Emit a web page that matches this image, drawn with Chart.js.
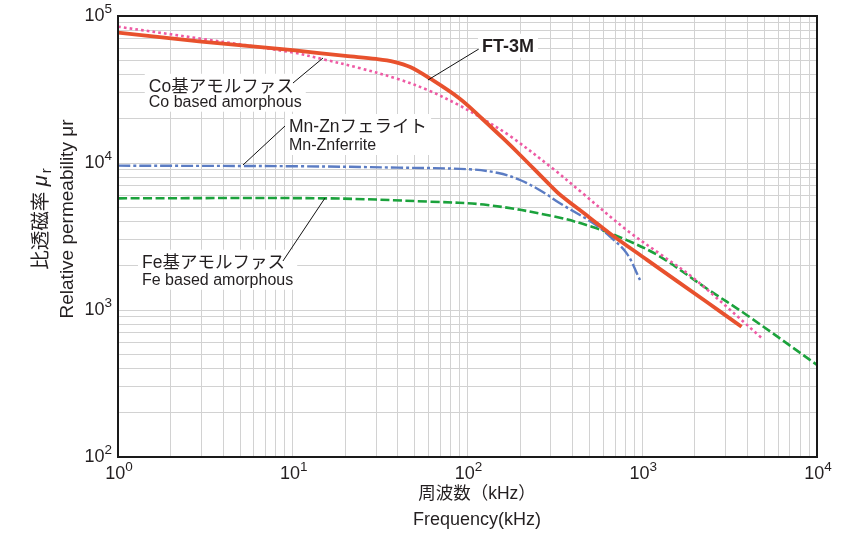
<!DOCTYPE html>
<html>
<head>
<meta charset="utf-8">
<script src="https://cdn.jsdelivr.net/npm/chart.js@4.4.1/dist/chart.umd.min.js"></script>
<style>
html, body { margin: 0; padding: 0; background: #fff; }
#wrap { width: 853px; height: 534px; }
</style>
</head>
<body>
<div id="wrap"><canvas id="chart" width="853" height="534"></canvas></div>
<script>
// 周波数 (kHz) / 比透磁率
const ft3mFreq = [1, 3, 10, 20, 30, 38, 47, 61, 90, 120, 160, 200, 300, 340, 500, 650, 1060, 2340, 3700];
const ft3mMu   = [77000, 67000, 58500, 53500, 51000, 48800, 45000, 37570, 27470, 20240, 14680, 11340, 6975, 6057, 4250, 3330, 2200, 1133, 770];

const coFreq = [1, 3, 10, 15, 24, 40, 60, 90, 120, 175, 310, 440, 815, 1264, 1960, 4900];
const coMu   = [84600, 70000, 56450, 50700, 44300, 37270, 31140, 24620, 20240, 15270, 9100, 6450, 3500, 2405, 1651, 635];

const mnznFreq = [1, 11, 40, 103, 150, 200, 270, 338, 525, 654, 815, 971];
const mnznMu   = [9590, 9500, 9300, 9060, 8550, 7660, 6350, 5320, 3890, 3160, 2430, 1600];

const feFreq = [1, 15, 60, 130, 310, 520, 815, 1264, 2337, 3960, 10000];
const feMu   = [5750, 5750, 5460, 5180, 4340, 3670, 2990, 2310, 1400, 925, 423];

const seriesNames = ["FT-3M", "Co基アモルファス", "Mn-Znフェライト", "Fe基アモルファス"];
const xTickExps = [0, 1, 2, 3, 4];
const yTickExps = [2, 3, 4, 5];

const LAT = '"Liberation Sans", Arial, "Noto Sans CJK JP", sans-serif';
const TXT = '#231f20';

function pts(fs, ms) {
  return fs.map((f, i) => ({ x: f, y: ms[i] }));
}

// 注記 (データ座標で指定)
const notes = [
  { main: "FT-3M", sub: null, bold: true, at: [121, 61800], from: [116, 59600], to: [59.4, 36700] },
  { main: "Co基アモルファス", sub: "Co based amorphous", at: [1.5, 33000], subAt: 25720, from: [10.03, 35000], to: [14.9, 51800] },
  { main: "Mn-Znフェライト", sub: "Mn-Znferrite", at: [9.52, 17580], subAt: 13050, from: [9.03, 17850], to: [5.19, 9690] },
  { main: "Fe基アモルファス", sub: "Fe based amorphous", at: [1.372, 2097], subAt: 1582, from: [8.79, 2154], to: [15.3, 5780] }
];

function logTicks(min, max) {
  const out = [];
  for (let e = Math.log10(min); e <= Math.log10(max); e++) {
    for (let m = 1; m <= 9; m++) {
      const v = m * Math.pow(10, e);
      if (v <= max) out.push({ value: v });
    }
  }
  return out;
}

function notePx(chart, f, mu) {
  return [chart.scales.x.getPixelForValue(f), chart.scales.y.getPixelForValue(mu)];
}

const boxPlugin = {
  id: 'noteBoxes',
  beforeDatasetsDraw(chart) {
    const ctx = chart.ctx;
    ctx.save();
    notes.forEach(n => {
      const [x, y] = notePx(chart, n.at[0], n.at[1]);
      ctx.font = (n.bold ? 'bold 18px ' : '17.5px ') + LAT;
      let w = ctx.measureText(n.main).width;
      let yb = y + 11;
      if (n.sub) {
        ctx.font = '16px ' + LAT;
        w = Math.max(w, ctx.measureText(n.sub).width);
        yb = chart.scales.y.getPixelForValue(n.subAt) + 9;
      }
      ctx.fillStyle = '#fff';
      ctx.fillRect(x - 4, y - 13, w + 8, yb - y + 13);
    });
    ctx.restore();
  }
};

const drawPlugin = {
  id: 'decor',
  afterDatasetsDraw(chart) {
    const ctx = chart.ctx;
    ctx.save();
    // 注記テキストと引き出し線
    notes.forEach(n => {
      const [x, y] = notePx(chart, n.at[0], n.at[1]);
      ctx.fillStyle = TXT;
      ctx.textAlign = 'left';
      ctx.textBaseline = 'middle';
      ctx.font = (n.bold ? 'bold 18px ' : '17.5px ') + LAT;
      ctx.fillText(n.main, x, y);
      if (n.sub) {
        ctx.font = '16px ' + LAT;
        ctx.fillText(n.sub, x, chart.scales.y.getPixelForValue(n.subAt));
      }
      const a = notePx(chart, n.from[0], n.from[1]);
      const b = notePx(chart, n.to[0], n.to[1]);
      ctx.strokeStyle = '#111';
      ctx.lineWidth = 1;
      ctx.beginPath();
      ctx.moveTo(a[0], a[1]);
      ctx.lineTo(b[0], b[1]);
      ctx.stroke();
    });
    ctx.restore();
  },
  afterDraw(chart) {
    const ctx = chart.ctx;
    const ca = chart.chartArea;
    const sx = chart.scales.x, sy = chart.scales.y;
    ctx.save();
    // 枠
    ctx.strokeStyle = '#1a1a1a';
    ctx.lineWidth = 2;
    ctx.strokeRect(ca.left, ca.top, ca.right - ca.left, ca.bottom - ca.top);

    // 目盛ラベル 10^n
    ctx.fillStyle = TXT;
    ctx.textBaseline = 'middle';
    ctx.textAlign = 'left';
    const fBase = '18px ' + LAT, fSup = '13.5px ' + LAT;
    xTickExps.forEach(e => {
      const px = sx.getPixelForValue(Math.pow(10, e));
      ctx.font = fBase;
      const w1 = ctx.measureText('10').width;
      ctx.font = fSup;
      const w2 = ctx.measureText(String(e)).width;
      const x0 = px - (w1 + w2) / 2 + 1;
      ctx.font = fBase;
      ctx.fillText('10', x0, ca.bottom + 17);
      ctx.font = fSup;
      ctx.fillText(String(e), x0 + w1, ca.bottom + 10.5);
    });
    yTickExps.forEach(e => {
      const py = sy.getPixelForValue(Math.pow(10, e));
      ctx.font = fBase;
      const w1 = ctx.measureText('10').width;
      ctx.font = fSup;
      const w2 = ctx.measureText(String(e)).width;
      const x0 = ca.left - 6 - w1 - w2;
      ctx.font = fBase;
      ctx.fillText('10', x0, py + 0.5);
      ctx.font = fSup;
      ctx.fillText(String(e), x0 + w1, py - 6.5);
    });

    // X軸タイトル
    ctx.textAlign = 'center';
    ctx.font = '17.5px ' + LAT;
    ctx.fillText('周波数（kHz）', 477, ca.bottom + 37);
    ctx.font = '18px ' + LAT;
    ctx.fillText('Frequency(kHz)', 477, ca.bottom + 63);

    // Y軸タイトル (回転)
    const yc = 219;
    ctx.save();
    ctx.translate(73, yc);
    ctx.rotate(-Math.PI / 2);
    ctx.textBaseline = 'alphabetic';
    ctx.textAlign = 'center';
    ctx.font = '19px ' + LAT;
    ctx.fillText('Relative permeability μr', 0, 0);
    ctx.restore();

    ctx.save();
    ctx.translate(47, yc);
    ctx.rotate(-Math.PI / 2);
    ctx.textBaseline = 'alphabetic';
    ctx.textAlign = 'left';
    const p1 = '比透磁率 ', p2 = 'μ', p3 = 'r';
    ctx.font = '19.5px ' + LAT;
    const w1 = ctx.measureText(p1).width;
    ctx.font = 'italic 20px ' + LAT;
    const w2 = ctx.measureText(p2).width;
    ctx.font = '15px ' + LAT;
    const w3 = ctx.measureText(p3).width;
    let x = -(w1 + w2 + w3 + 2) / 2;
    ctx.font = '19.5px ' + LAT;
    ctx.fillText(p1, x, 0);
    x += w1;
    ctx.font = 'italic 20px ' + LAT;
    ctx.fillText(p2, x, 0);
    x += w2 + 2;
    ctx.font = '15px ' + LAT;
    ctx.fillText(p3, x, 4);
    ctx.restore();

    ctx.restore();
  }
};

new Chart(document.getElementById('chart'), {
  type: 'line',
  data: {
    datasets: [
      { label: seriesNames[0], data: pts(ft3mFreq, ft3mMu), borderColor: '#e8512d', borderWidth: 3.8, order: 0 },
      { label: seriesNames[1], data: pts(coFreq, coMu), borderColor: '#ee5aa4', borderWidth: 2.6, borderDash: [2.7, 3.1], order: 1 },
      { label: seriesNames[2], data: pts(mnznFreq, mnznMu), borderColor: '#5b7cc3', borderWidth: 2.4, borderDash: [12, 3, 3, 3], order: 2 },
      { label: seriesNames[3], data: pts(feFreq, feMu), borderColor: '#1ba23c', borderWidth: 2.6, borderDash: [9, 3.5], order: 3 }
    ]
  },
  options: {
    responsive: false,
    animation: false,
    devicePixelRatio: 1,
    layout: { padding: { left: 118, top: 16, right: 36, bottom: 77 } },
    elements: {
      point: { radius: 0 },
      line: { tension: 0.35, fill: false, borderCapStyle: 'butt' }
    },
    plugins: {
      legend: { display: false },
      tooltip: { enabled: false }
    },
    scales: {
      x: {
        type: 'logarithmic',
        min: 1,
        max: 10000,
        afterBuildTicks: axis => { axis.ticks = logTicks(1, 10000); },
        ticks: { display: false },
        grid: { color: '#d2d2d2', lineWidth: 1, drawTicks: false },
        border: { display: false }
      },
      y: {
        type: 'logarithmic',
        min: 100,
        max: 100000,
        afterBuildTicks: axis => { axis.ticks = logTicks(100, 100000); },
        ticks: { display: false },
        grid: { color: '#d2d2d2', lineWidth: 1, drawTicks: false },
        border: { display: false }
      }
    }
  },
  plugins: [boxPlugin, drawPlugin]
});
</script>
</body>
</html>
